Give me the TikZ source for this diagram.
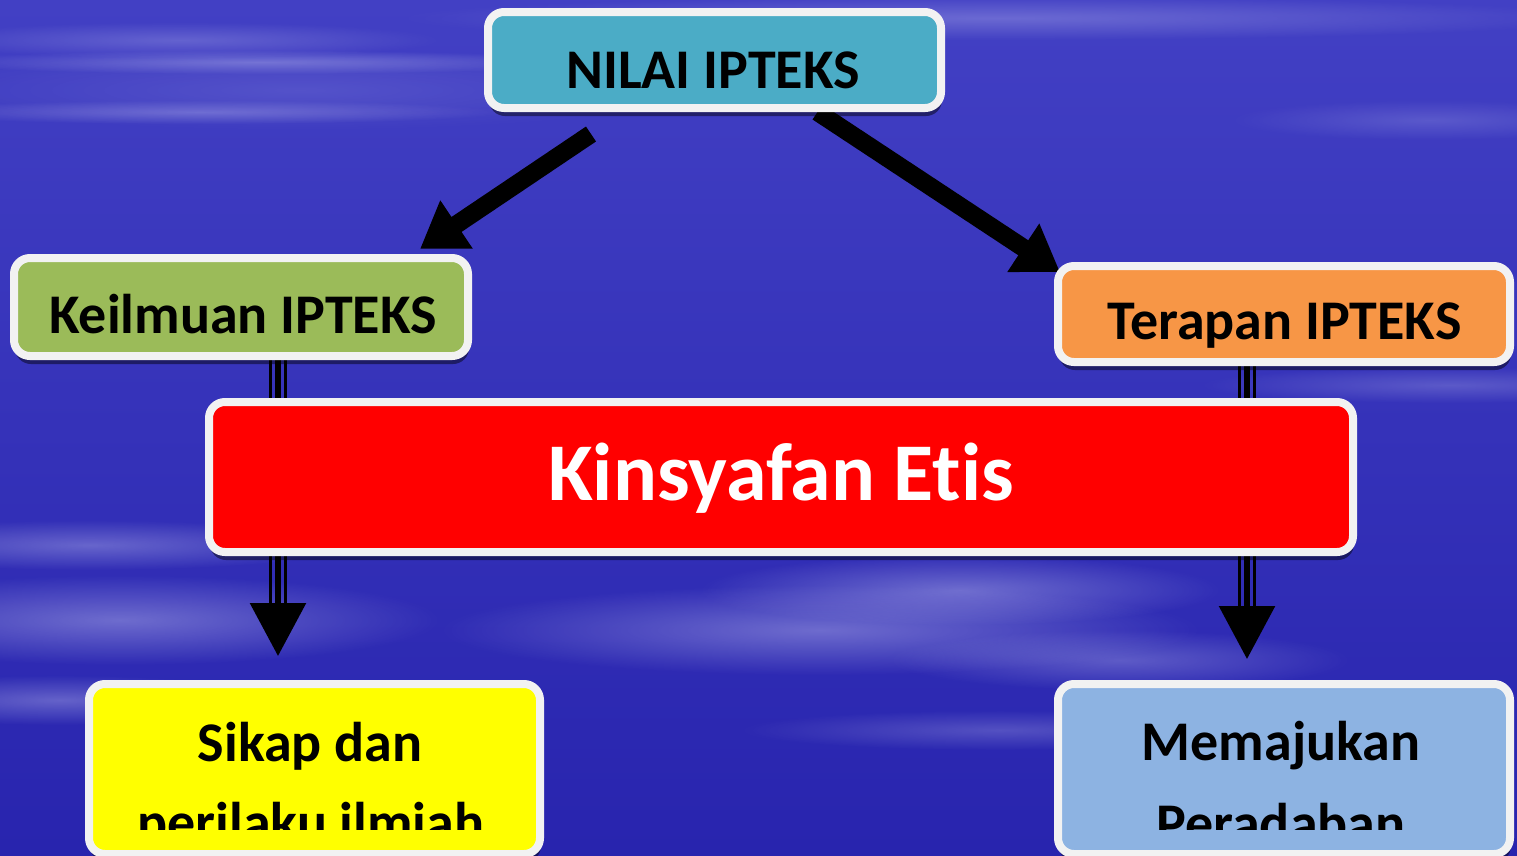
\documentclass[tikz,border=0pt]{standalone}
\usepackage{fontspec}
\setmainfont{Carlito}[Ligatures=NoCommon]
\usetikzlibrary{arrows.meta,calc,fadings,shadows}

\definecolor{bgtop}{RGB}{66,64,196}
\definecolor{bgmid}{RGB}{46,42,180}
\definecolor{bgbot}{RGB}{40,36,174}
\definecolor{streak}{RGB}{205,205,245}
\definecolor{nilaiC}{RGB}{75,172,198}
\definecolor{keilC}{RGB}{155,187,89}
\definecolor{terapC}{RGB}{247,150,70}
\definecolor{kinsC}{RGB}{255,0,0}
\definecolor{sikapC}{RGB}{255,255,0}
\definecolor{memajC}{RGB}{141,179,226}
\definecolor{rimC}{RGB}{242,242,242}

\tikzfading[name=softspot, inner color=transparent!0, outer color=transparent!100]

\pgfdeclarelayer{sky}
\pgfdeclarelayer{links}
\pgfsetlayers{sky,links,main}

\begin{document}
\begin{tikzpicture}[x=1pt,y=-1pt,
  panel/.style={rounded corners=16pt, draw=rimC, line width=8pt, inner sep=0pt,
    drop shadow={shadow xshift=1pt, shadow yshift=-8pt, fill=black, opacity=.45}},
  boxtext/.style={font=\bfseries\fontsize{56}{60}\selectfont, anchor=base, inner sep=0pt},
  fat/.style={line width=18pt, -{Triangle[length=44pt,width=55pt]}},
  midline/.style={line width=6pt, -{Triangle[length=53pt,width=55pt]}},
  sideline/.style={line width=3pt},
  cloud/.style={fill=streak, path fading=softspot}]

\useasboundingbox (0,0) rectangle (1517,855);

% boxes
\node[panel, fill=nilaiC, minimum width=453pt, minimum height=96pt] (nilai) at (714.5,60) {};
\node[panel, fill=keilC, minimum width=454pt, minimum height=98pt] (keil) at (241,307) {};
\node[panel, fill=terapC, minimum width=452pt, minimum height=96pt] (terap) at (1284,314) {};
\node[panel, fill=kinsC, minimum width=1144pt, minimum height=150pt] (kins) at (781,477) {};
\node[panel, fill=sikapC, minimum width=451pt, minimum height=170pt] (sikap) at (314.5,769) {};
\node[panel, fill=memajC, minimum width=452pt, minimum height=170pt] (memaj) at (1284,769) {};

% texts
\node[boxtext] (tNilai) at (713,88) {NILAI IPTEKS};
\node[boxtext] (tKeil) at (243,333) {Keilmuan IPTEKS};
\node[boxtext] (tTerap) at (1284.5,339) {Terapan IPTEKS};
\node[boxtext, text=white, font=\bfseries\fontsize{82}{90}\selectfont] (tKins) at (781,500) {Kinsyafan Et\kern0pt is};
\node[boxtext] (tSikap) at (310,761) {Sikap dan};
\node[boxtext] (tMemaj) at (1281,760) {Memajukan};
\begin{scope}
  \clip (0,0) rectangle (1517,829);
  \node[boxtext] (tSikap2) at (311,841) {perilaku ilmiah};
  \node[boxtext] (tMemaj2) at (1281,842) {Peradaban};
\end{scope}

% connectors
\begin{pgfonlayer}{links}
  \draw[fat] ($(nilai.south west)+(107,22)$) -- ($(keil.north)+(179,-5)$);
  \draw[fat] ($(nilai.south)+(103,0)$) -- ($(terap.north west)+(6,10)$);

  \coordinate (colL) at (278,0);
  \coordinate (colR) at (1247,0);
  % left triple line
  \draw[midline, shorten >=24pt] (keil.south -| colL) -- (sikap.north -| colL);
  \draw[sideline] ($(keil.south -| colL)+(-7.5,0)$) -- ($(sikap.north -| colL)+(-7.5,-77)$);
  \draw[sideline] ($(keil.south -| colL)+(7.5,0)$) -- ($(sikap.north -| colL)+(7.5,-77)$);
  % right triple line
  \draw[midline, shorten >=21pt] (terap.south -| colR) -- (memaj.north -| colR);
  \draw[sideline] ($(terap.south -| colR)+(-7.5,0)$) -- ($(memaj.north -| colR)+(-7.5,-74)$);
  \draw[sideline] ($(terap.south -| colR)+(7.5,0)$) -- ($(memaj.north -| colR)+(7.5,-74)$);
\end{pgfonlayer}

% sky with soft cloud streaks
\begin{pgfonlayer}{sky}
  \shade[top color=bgtop, middle color=bgmid, bottom color=bgbot] (0,0) rectangle (1517,855);
  \fill[cloud, opacity=.30] (1000,18) ellipse [x radius=600, y radius=22];
  \fill[cloud, opacity=.35] (260,62) ellipse [x radius=330, y radius=12];
  \fill[cloud, opacity=.25] (180,40) ellipse [x radius=260, y radius=18];
  \fill[cloud, opacity=.30] (200,112) ellipse [x radius=300, y radius=12];
  \fill[cloud, opacity=.15] (300,90) ellipse [x radius=400, y radius=40];
  \fill[cloud, opacity=.20] (1430,120) ellipse [x radius=200, y radius=20];
  \fill[cloud, opacity=.25] (1450,385) ellipse [x radius=250, y radius=18];
  \fill[cloud, opacity=.35] (90,545) ellipse [x radius=260, y radius=25];
  \fill[cloud, opacity=.40] (120,620) ellipse [x radius=320, y radius=45];
  \fill[cloud, opacity=.35] (60,700) ellipse [x radius=220, y radius=25];
  \fill[cloud, opacity=.40] (820,630) ellipse [x radius=380, y radius=45];
  \fill[cloud, opacity=.40] (960,590) ellipse [x radius=260, y radius=35];
  \fill[cloud, opacity=.30] (1120,660) ellipse [x radius=230, y radius=30];
  \fill[cloud, opacity=.25] (1000,730) ellipse [x radius=260, y radius=20];
\end{pgfonlayer}
\end{tikzpicture}
\end{document}
